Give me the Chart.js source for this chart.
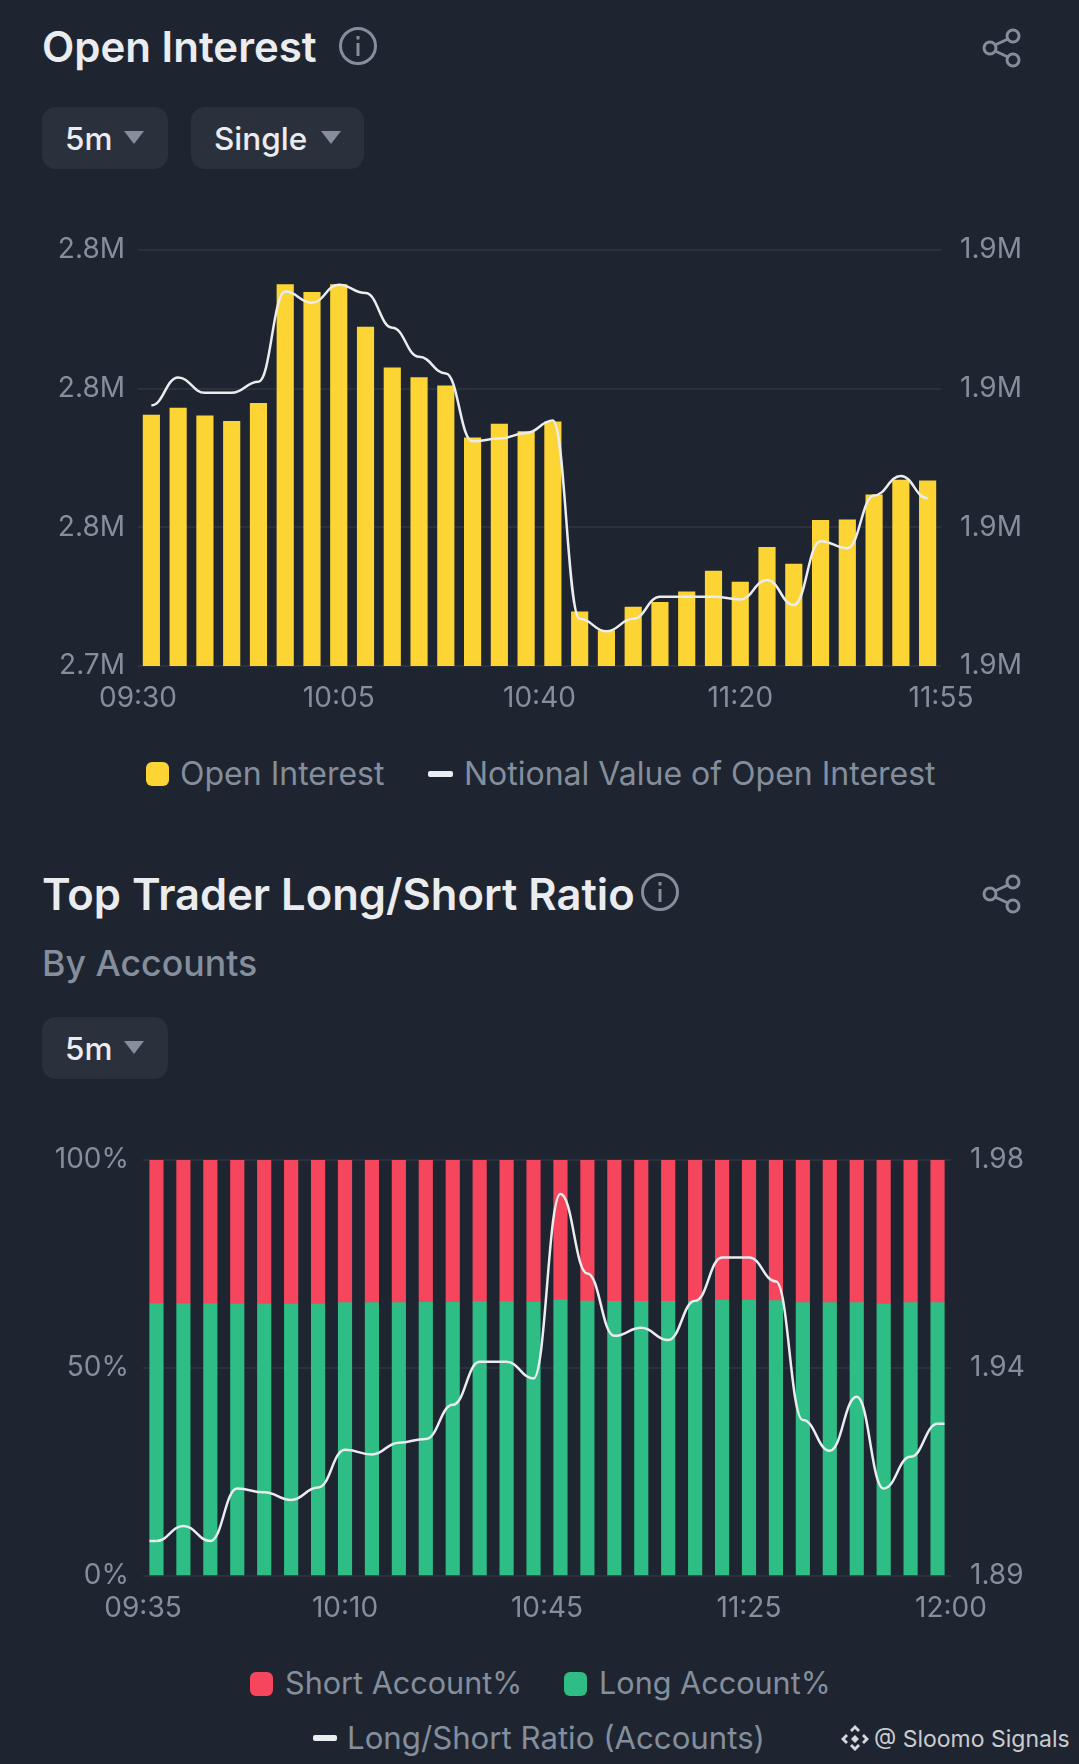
<!DOCTYPE html>
<html lang="en">
<head>
<meta charset="UTF-8">
<title>Open Interest / Top Trader Long/Short Ratio</title>
<style>
    html, body { margin: 0; padding: 0; background: #1e2530; }
    body { width: 1079px; height: 1764px; position: relative; overflow: hidden; font-family: Inter, sans-serif; }
    .abs { position: absolute; white-space: nowrap; }
    .title { color: #eaecef; font-size: 42px; font-weight: 600; line-height: 48px; }
    .sub { color: #848e9c; font-size: 35.7px; font-weight: 500; line-height: 40px; }
    .btn { background: #2a303c; border-radius: 14px; height: 62px; }
    .btn span { position: absolute; left: 23px; top: 14px; color: #eaecef; font-size: 31.5px; font-weight: 500; line-height: 36px; }
    .btn i { position: absolute; top: 24px; width: 0; height: 0; border-left: 10px solid transparent; border-right: 10px solid transparent; border-top: 13px solid #848e9c; }
    .leg { color: #848e9c; font-size: 32px; line-height: 36px; }
    .sw { position: absolute; border-radius: 6px; }
    .ln { position: absolute; border-radius: 2px; background: #eaecef; }
    canvas { position: absolute; left: 0; }
</style>
<script src="https://cdn.jsdelivr.net/npm/chart.js"></script>
</head>
<body>

<div class="abs title" style="left:42px;top:23px">Open Interest</div>
<svg class="abs" style="left:338px;top:26px" width="40" height="40" viewBox="0 0 40 40" fill="none" stroke="#848e9c" stroke-width="3"><circle cx="20" cy="20" r="17.5"/><line x1="20" y1="17" x2="20" y2="30"/><line x1="20" y1="10" x2="20" y2="13.5"/></svg>
<svg class="abs share" style="left:982px;top:28px" width="40" height="40" viewBox="0 0 40 40" fill="none" stroke="#848e9c" stroke-width="3"><circle cx="31" cy="8" r="6"/><circle cx="31" cy="32" r="6"/><circle cx="8" cy="20" r="6"/><line x1="13" y1="17" x2="26" y2="11"/><line x1="13" y1="23" x2="26" y2="29"/></svg>
<div class="abs btn" style="left:42px;top:107px;width:126px"><span>5m</span><i style="left:82px"></i></div>
<div class="abs btn" style="left:191px;top:107px;width:173px"><span>Single</span><i style="left:130px"></i></div>
<canvas id="oiChart" width="1079" height="506" style="top:210px;width:1079px;height:506px"></canvas>
<div class="abs sw" style="left:146px;top:762px;width:23px;height:24px;background:#fcd535"></div>
<div class="abs leg" style="left:180px;top:756px">Open Interest</div>
<div class="abs ln" style="left:428px;top:771px;width:25px;height:6px"></div>
<div class="abs leg" style="left:464px;top:756px">Notional Value of Open Interest</div>

<div class="abs title" style="left:42px;top:870px;font-size:43.5px">Top Trader Long/Short Ratio</div>
<svg class="abs" style="left:640px;top:872px" width="40" height="40" viewBox="0 0 40 40" fill="none" stroke="#848e9c" stroke-width="3"><circle cx="20" cy="20" r="17.5"/><line x1="20" y1="17" x2="20" y2="30"/><line x1="20" y1="10" x2="20" y2="13.5"/></svg>
<svg class="abs share" style="left:982px;top:874px" width="40" height="40" viewBox="0 0 40 40" fill="none" stroke="#848e9c" stroke-width="3"><circle cx="31" cy="8" r="6"/><circle cx="31" cy="32" r="6"/><circle cx="8" cy="20" r="6"/><line x1="13" y1="17" x2="26" y2="11"/><line x1="13" y1="23" x2="26" y2="29"/></svg>
<div class="abs sub" style="left:42px;top:943px">By Accounts</div>
<div class="abs btn" style="left:42px;top:1017px;width:126px"><span>5m</span><i style="left:82px"></i></div>
<canvas id="ratioChart" width="1079" height="506" style="top:1120px;width:1079px;height:506px"></canvas>
<div class="abs sw" style="left:250px;top:1672px;width:23px;height:24px;background:#f6465d"></div>
<div class="abs leg" style="left:285px;top:1665px;font-size:30.6px">Short Account%</div>
<div class="abs sw" style="left:564px;top:1672px;width:23px;height:24px;background:#2ebd85"></div>
<div class="abs leg" style="left:599px;top:1665px;font-size:30.6px">Long Account%</div>
<div class="abs ln" style="left:313px;top:1735px;width:24px;height:6px"></div>
<div class="abs leg" style="left:347px;top:1720px;font-size:31.2px">Long/Short Ratio (Accounts)</div>

<svg class="abs" style="left:841px;top:1725px" width="28" height="28" viewBox="0 0 28 28" fill="#d5d8dc"><path d="M14 0l5 5-2 2-3-3-3 3-2-2zM5 9l2 2-3 3 3 3-2 2-5-5zM23 9l5 5-5 5-2-2 3-3-3-3zM14 10l4 4-4 4-4-4zM9 21l2-2 3 3 3-3 2 2-5 5z"/></svg>
<div class="abs" style="left:874px;top:1725px;color:#c9ccd0;font-size:23px;line-height:28px">@ Sloomo Signals</div>

<script>
    // open interest chart, millions
    const oiLabels = ['09:30','09:35','09:40','09:45','09:50','09:55','10:00','10:05','10:10','10:15','10:20','10:25','10:30','10:35','10:40','10:45','10:50','10:55','11:00','11:05','11:10','11:15','11:20','11:25','11:30','11:35','11:40','11:45','11:50','11:55'];
    const oiTicks = ['09:30','10:05','10:40','11:20','11:55'];
    const oiValues = [2.7762,2.7772,2.7761,2.7753,2.7779,2.7950,2.7939,2.7950,2.7889,2.7830,2.7816,2.7804,2.7729,2.7749,2.7738,2.7752,2.7478,2.7451,2.7485,2.7492,2.7507,2.7537,2.7521,2.7571,2.7547,2.7610,2.7611,2.7647,2.7668,2.7667];
    const notionalValues = [1.8988,1.9008,1.8997,1.8997,1.9005,1.9070,1.9062,1.9075,1.9069,1.9044,1.9023,1.9011,1.8962,1.8964,1.8968,1.8977,1.8834,1.8825,1.8834,1.8850,1.8850,1.8850,1.8848,1.8862,1.8844,1.8890,1.8885,1.8923,1.8937,1.8921];

    // long/short chart
    const ratioLabels = ['09:35','09:40','09:45','09:50','09:55','10:00','10:05','10:10','10:15','10:20','10:25','10:30','10:35','10:40','10:45','10:50','10:55','11:00','11:05','11:10','11:15','11:20','11:25','11:30','11:35','11:40','11:45','11:50','11:55','12:00'];
    const ratioTicks = ['09:35','10:10','10:45','11:25','12:00'];
    const longValues = [65.4,65.4,65.4,65.5,65.5,65.5,65.5,65.7,65.7,65.7,65.8,65.8,65.9,65.9,65.8,66.3,66.1,66.0,66.0,66.0,66.1,66.3,66.3,66.2,65.7,65.7,65.7,65.5,65.7,65.7];
    const shortValues = [34.6,34.6,34.6,34.5,34.5,34.5,34.5,34.3,34.3,34.3,34.2,34.2,34.1,34.1,34.2,33.7,33.9,34.0,34.0,34.0,33.9,33.7,33.7,33.8,34.3,34.3,34.3,34.5,34.3,34.3];
    const ratioValues = [1.8994,1.9026,1.8994,1.9105,1.9097,1.9081,1.9107,1.9187,1.9177,1.9202,1.9210,1.9282,1.9373,1.9373,1.9338,1.9728,1.9560,1.9428,1.9445,1.9419,1.9502,1.9594,1.9594,1.9543,1.9250,1.9185,1.9299,1.9105,1.9172,1.9242];

    Chart.defaults.font.family = 'Inter, sans-serif';
    Chart.defaults.font.size = 28;
    Chart.defaults.color = '#848e9c';
    Chart.defaults.animation = false;

    const gridColor = '#2b323e';

    function fixWidth(w) {
        return function (scale) { scale.width = w; };
    }

    // the app's line has a flat tangent at every point, chart.js has no such mode
    const flatTangents = {
        id: 'flatTangents',
        beforeDatasetDraw(chart, args, opts) {
            const line = args.meta.dataset;
            if (!line) return;
            line.updateControlPoints(chart.chartArea, 'x');
            const pts = line.points;
            pts.forEach((p, i) => {
                if (i > 0) { p.cp1x = p.x - 0.45 * (p.x - pts[i - 1].x); p.cp1y = p.y; }
                if (i < pts.length - 1) { p.cp2x = p.x + 0.45 * (pts[i + 1].x - p.x); p.cp2y = p.y; }
            });
            line._path = undefined;
        },
        afterDatasetDraw(chart, args, opts) {
            const line = args.meta.dataset;
            if (!line || !opts.endCap) return;
            const pts = line.points, a = pts[0], b = pts[pts.length - 1], ctx = chart.ctx;
            ctx.save();
            ctx.strokeStyle = line.options.borderColor;
            ctx.lineWidth = line.options.borderWidth;
            ctx.beginPath();
            ctx.moveTo(a.x - opts.endCap, a.y);
            ctx.lineTo(a.x, a.y);
            ctx.moveTo(b.x, b.y);
            ctx.lineTo(b.x + opts.endCap, b.y);
            ctx.stroke();
            ctx.restore();
        }
    };

    // shared x axes: hidden category axis for the marks, linear one for the 5 edge labels
    function xAxes(ticks, count, stacked) {
        return {
            bars: { type: 'category', display: false, stacked: stacked, offset: true },
            x: {
                type: 'linear',
                position: 'bottom',
                offset: false,
                min: 0,
                max: count,
                grid: { display: false },
                border: { display: false },
                afterFit: function (scale) { scale.height = 50; },
                ticks: {
                    stepSize: count / (ticks.length - 1),
                    maxRotation: 0,
                    padding: 8,
                    color: '#848e9c',
                    callback: function (v) { return ticks[Math.round(v / (count / (ticks.length - 1)))]; }
                }
            }
        };
    }

    new Chart(document.getElementById('oiChart'), {
        type: 'bar',
        plugins: [flatTangents],
        data: {
            labels: oiLabels,
            datasets: [
                { type: 'line', label: 'Notional Value of Open Interest', data: notionalValues, yAxisID: 'y1', xAxisID: 'bars', borderColor: '#eaecef', borderWidth: 2.5, pointRadius: 0, cubicInterpolationMode: 'monotone', order: 0 },
                { label: 'Open Interest', data: oiValues, yAxisID: 'y', xAxisID: 'bars', backgroundColor: '#fcd535', barThickness: 16.5, order: 1 }
            ]
        },
        options: {
            responsive: false,
            devicePixelRatio: 1,
            layout: { padding: { top: 40 } },
            plugins: { legend: { display: false }, tooltip: { enabled: false }, flatTangents: { endCap: 0 } },
            scales: Object.assign(xAxes(oiTicks, oiLabels.length, false), {
                y: {
                    position: 'left', min: 2.74, max: 2.80,
                    afterFit: fixWidth(138),
                    border: { display: false },
                    grid: { color: gridColor, lineWidth: 2, drawTicks: false },
                    ticks: { stepSize: 0.02, padding: 13, callback: function (v) { return v.toFixed(1) + 'M'; } }
                },
                y1: {
                    position: 'right', min: 1.88, max: 1.91,
                    afterFit: fixWidth(138),
                    border: { display: false },
                    grid: { display: false },
                    ticks: { stepSize: 0.01, padding: 11, callback: function (v) { return v.toFixed(1) + 'M'; } }
                }
            })
        }
    });

    new Chart(document.getElementById('ratioChart'), {
        type: 'bar',
        plugins: [flatTangents],
        data: {
            labels: ratioLabels,
            datasets: [
                { type: 'line', label: 'Long/Short Ratio (Accounts)', data: ratioValues, yAxisID: 'y1', xAxisID: 'bars', borderColor: '#eaecef', borderWidth: 2.5, pointRadius: 0, cubicInterpolationMode: 'monotone', order: 0 },
                { label: 'Long Account%', data: longValues, yAxisID: 'y', xAxisID: 'bars', backgroundColor: '#2ebd85', barThickness: 13.5, stack: 'a', order: 1 },
                { label: 'Short Account%', data: shortValues, yAxisID: 'y', xAxisID: 'bars', backgroundColor: '#f6465d', barThickness: 13.5, stack: 'a', order: 1 }
            ]
        },
        options: {
            responsive: false,
            devicePixelRatio: 1,
            layout: { padding: { top: 40 } },
            plugins: { legend: { display: false }, tooltip: { enabled: false }, flatTangents: { endCap: 7 } },
            scales: Object.assign(xAxes(ratioTicks, ratioLabels.length, true), {
                y: {
                    position: 'left', min: 0, max: 100, stacked: true,
                    afterFit: fixWidth(143),
                    border: { display: false },
                    grid: { color: gridColor, lineWidth: 2, drawTicks: false },
                    ticks: { stepSize: 50, padding: 14, callback: function (v) { return v + '%'; } }
                },
                y1: {
                    position: 'right', min: 1.892, max: 1.98,
                    afterFit: fixWidth(128),
                    border: { display: false },
                    grid: { display: false },
                    ticks: { count: 3, padding: 11, callback: function (v) { return v.toFixed(2); } }
                }
            })
        }
    });
</script>
</body>
</html>
